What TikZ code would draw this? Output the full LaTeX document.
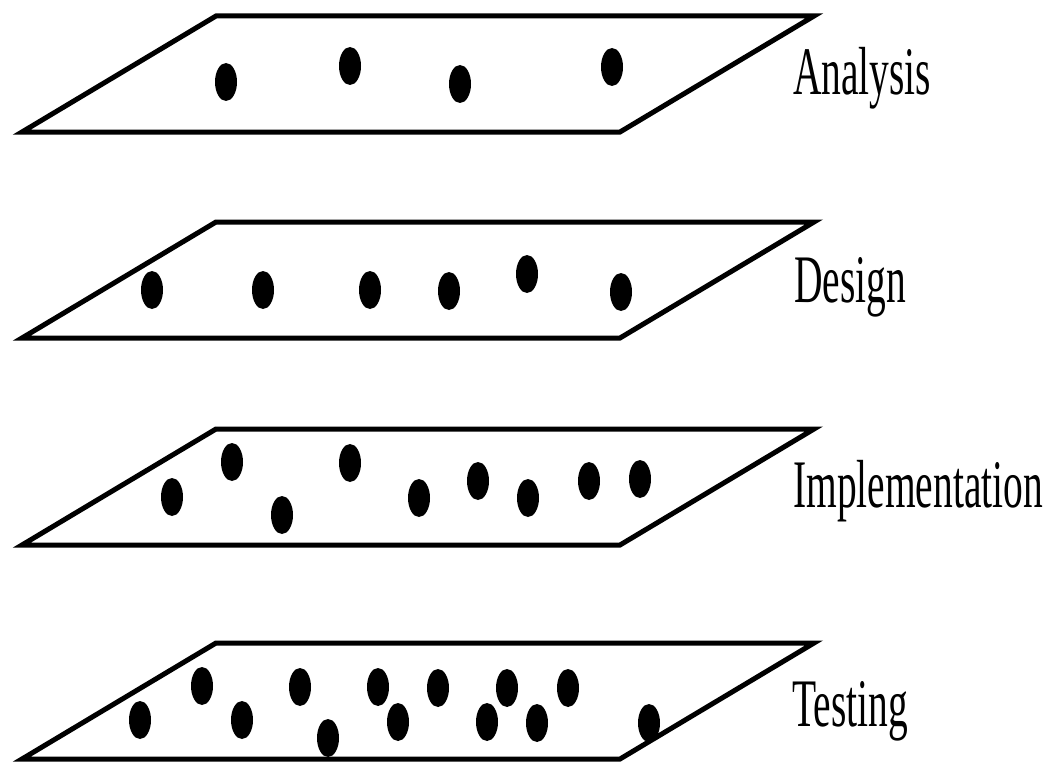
\documentclass[tikz,border=0pt]{standalone}
\usepackage{fontspec}
\setmainfont{Liberation Serif}
\begin{document}
\begin{tikzpicture}[x=1pt,y=-1pt,
  plane/.style={draw=black,line width=5pt,line join=miter},
  dot/.style={fill=black},
  lbl/.style={anchor=base west,inner sep=0pt,font=\fontsize{68}{68}\selectfont}]
\useasboundingbox (0,0) rectangle (1059,765);
% planes: top y values
\foreach \t in {16,222,429,643}{
  \draw[plane] (22,\t+116) -- (216,\t) -- (814,\t) -- (620,\t+116) -- cycle;
}
% dots
\foreach \p in {(226,82),(350,66),(460,84),(612,67),
  (152,290),(263,290),(370,290),(449,291),(527,274),(621,292),
  (172,497),(232,462),(282,515),(350,463),(419,498),(478,481),(528,498),(589,481),(640,479),
  (140,720),(202,686),(242,720),(300,687),(328,738),(378,687),(398,722),(438,688),(487,722),(507,688),(537,723),(568,688),(649,723)}{
  \fill[dot] \p ellipse [x radius=11, y radius=19];
}
\node[lbl] (la) at (793,95) {\scalebox{0.58}[1]{Analysis}};
\node[lbl] (ld) at (794,302) {\scalebox{0.58}[1]{Design}};
\node[lbl] (li) at (793,507) {\scalebox{0.58}[1]{Implementation}};
\node[lbl] (lt) at (792,726) {\scalebox{0.58}[1]{Testing}};
\end{tikzpicture}
\end{document}
